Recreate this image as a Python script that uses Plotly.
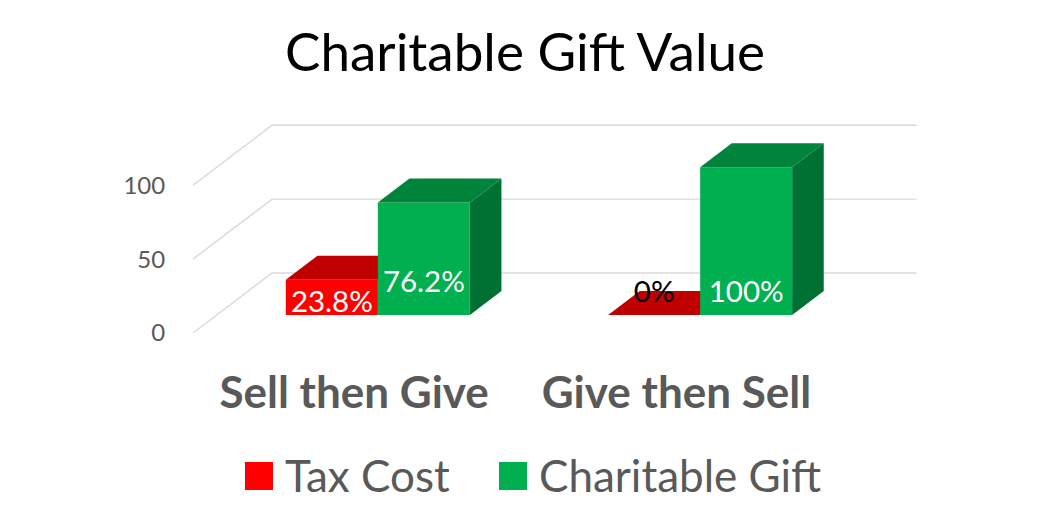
import plotly.graph_objects as go

# ---------------- data ----------------
categories = ["Sell then Give", "Give then Sell"]
series_names = ["Tax Cost", "Charitable Gift"]
tax_cost = [23.8, 0]
charitable_gift = [76.2, 100]
y_ticks = [0, 50, 100]

# ---------------- style / layout constants ----------------
PAGE_OFF = 8            # browser body margin (px)
FIG_W, FIG_H = 1034, 509
CAT_PX = 322.3          # pixels per category
FLOOR_LEFT_PX = 193     # screen x of front-left floor corner
FRONT_ZERO_PX = 333     # screen y of value 0 on the front plane
PX_PER_UNIT = 1.478     # pixels per value unit
DDX = 79 / CAT_PX       # full floor depth, x (category units)
DDY = 60 / PX_PER_UNIT  # full floor depth, y (value units)
Z0, Z1 = 0.3, 0.7       # bar front/back depth fractions
BAR_W = 92 / CAT_PX     # bar width (category units)
LEFT_MARGIN = 170

front_cols = ["#FF0000", "#00B050"]
top_cols = ["#C00000", "#00843C"]
side_cols = ["#A00000", "#007033"]
label_cols = [["#FFFFFF", "#000000"], ["#FFFFFF", "#FFFFFF"]]
label_raise = [[7.0, 14.0], [20.5, 14.0]]   # value units above bar base
GRID_COL = "#D9D9D9"
TEXT_GREY = "#595959"
FONT = "Lato"


def px_to_x(px):
    return (px - FLOOR_LEFT_PX) / CAT_PX - 0.5


def px_to_y(py):
    return (FRONT_ZERO_PX - py) / PX_PER_UNIT


fig = go.Figure()

# gridlines: left wall slant + back wall
for v in y_ticks:
    xs = [-0.5, -0.5 + DDX, len(categories) - 0.5 + DDX]
    ys = [v, v + DDY, v + DDY]
    fig.add_trace(go.Scatter(x=xs, y=ys, mode="lines",
                             line=dict(color=GRID_COL, width=1.4),
                             hoverinfo="skip", showlegend=False))


def poly(xs, ys, color):
    fig.add_trace(go.Scatter(x=xs + [xs[0]], y=ys + [ys[0]], mode="lines",
                             fill="toself", fillcolor=color,
                             line=dict(width=0, color=color),
                             hoverinfo="skip", showlegend=False))


all_series = [tax_cost, charitable_gift]
dx = (Z1 - Z0) * DDX
dy = (Z1 - Z0) * DDY
b0 = Z0 * DDY
label_x, label_y, label_t, label_c = [], [], [], []
for i, _ in enumerate(categories):
    for s, vals in enumerate(all_series):
        val = vals[i]
        xl = i - BAR_W + s * BAR_W + Z0 * DDX
        xr = xl + BAR_W
        top = b0 + val
        poly([xr, xr + dx, xr + dx, xr], [b0, b0 + dy, top + dy, top], side_cols[s])
        if val > 0:
            poly([xl, xr, xr, xl], [b0, b0, top, top], front_cols[s])
        poly([xl, xr, xr + dx, xl + dx], [top, top, top + dy, top + dy], top_cols[s])
        label_x.append((xl + xr) / 2)
        label_y.append(b0 + label_raise[s][i])
        label_t.append(f"{val:g}%")
        label_c.append(label_cols[s][i])

# data labels
fig.add_trace(go.Scatter(x=label_x, y=label_y, mode="text", text=label_t,
                         textposition="middle center",
                         textfont=dict(family=FONT, size=29.5, color=label_c),
                         hoverinfo="skip", showlegend=False))

# legend (manual, larger swatches)
leg_sq_px = [259, 513]
leg_txt_px = [285, 539]
leg_y_sq = px_to_y(476)
leg_y_txt = px_to_y(481)
fig.add_trace(go.Scatter(x=[px_to_x(p) for p in leg_sq_px], y=[leg_y_sq, leg_y_sq],
                         mode="markers",
                         marker=dict(symbol="square", size=28, color=front_cols,
                                     line=dict(width=0)),
                         hoverinfo="skip", showlegend=False))
fig.add_trace(go.Scatter(x=[px_to_x(p) for p in leg_txt_px], y=[leg_y_txt, leg_y_txt],
                         mode="text", text=series_names,
                         textposition="middle right",
                         textfont=dict(family=FONT, size=44, color=TEXT_GREY),
                         hoverinfo="skip", showlegend=False))

x_lo = px_to_x(PAGE_OFF + LEFT_MARGIN)
x_hi = px_to_x(PAGE_OFF + FIG_W)
y_lo = px_to_y(PAGE_OFF + FIG_H)
y_hi = px_to_y(PAGE_OFF)

fig.update_layout(
    width=FIG_W, height=FIG_H,
    margin=dict(l=LEFT_MARGIN, r=0, t=0, b=0),
    paper_bgcolor="white", plot_bgcolor="white",
    showlegend=False,
    title=dict(text="Charitable Gift Value", x=0.5, xanchor="center",
               y=1 - (52.5 - PAGE_OFF) / FIG_H, yanchor="middle",
               font=dict(family=FONT, size=53, color="#000000")),
    xaxis=dict(range=[x_lo, x_hi], showgrid=False, zeroline=False, showline=False,
               tickvals=list(range(len(categories))), ticktext=categories,
               anchor="free", position=1 - (363 - PAGE_OFF) / FIG_H, ticks="",
               tickfont=dict(family=FONT, size=44, color=TEXT_GREY, weight=700),
               fixedrange=True),
    yaxis=dict(range=[y_lo, y_hi], showgrid=False, zeroline=False, showline=False,
               tickvals=y_ticks, ticks="outside", ticklen=7, tickcolor="rgba(0,0,0,0)",
               tickfont=dict(family=FONT, size=24, color=TEXT_GREY),
               fixedrange=True),
)

fig.write_html("out.html")
